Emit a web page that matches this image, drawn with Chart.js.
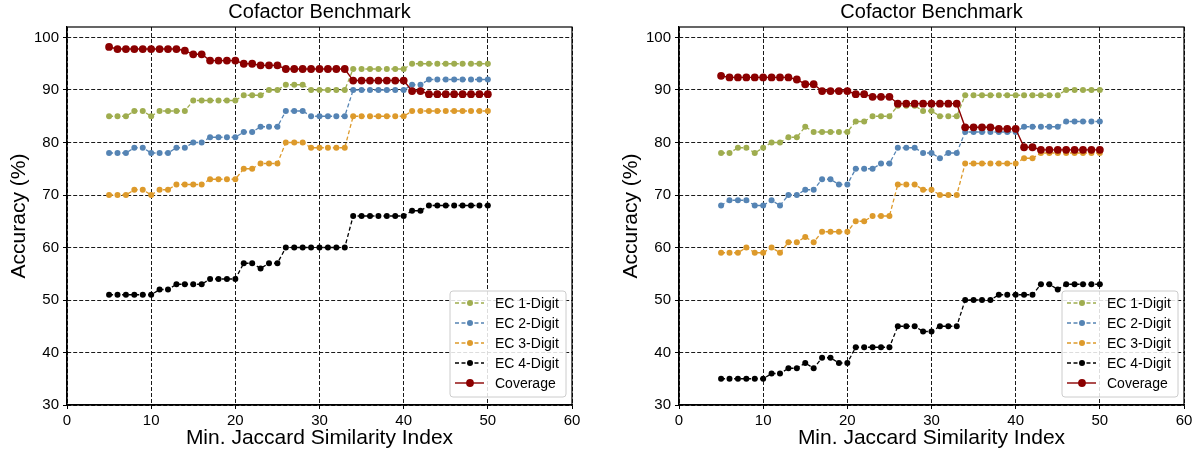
<!DOCTYPE html>
<html>
<head>
<meta charset="utf-8">
<script src="https://cdn.jsdelivr.net/npm/chart.js@4.4.0/dist/chart.umd.min.js"></script>
<style>
    body { margin: 0; background: #fff; }
    .panel { position: absolute; top: 0; width: 600px; height: 459px; }
    #left { left: 0; }
    #right { left: 600px; }
</style>
</head>
<body>
<div class="panel" id="left"><canvas id="chartLeft" width="600" height="459"></canvas></div>
<div class="panel" id="right"><canvas id="chartRight" width="600" height="459"></canvas></div>
<script>
// Datos
const jaccardIndex = [5, 6, 7, 8, 9, 10, 11, 12, 13, 14, 15, 16, 17, 18, 19, 20, 21, 22, 23, 24, 25, 26, 27, 28, 29, 30, 31, 32, 33, 34, 35, 36, 37, 38, 39, 40, 41, 42, 43, 44, 45, 46, 47, 48, 49, 50];
const xTicks = [0, 10, 20, 30, 40, 50, 60];
const yTicks = [30, 40, 50, 60, 70, 80, 90, 100];
const seriesNames = ['EC 1-Digit', 'EC 2-Digit', 'EC 3-Digit', 'EC 4-Digit', 'Coverage'];

// Panel izquierdo
const ec1Left = [85, 85, 85, 86, 86, 85, 86, 86, 86, 86, 88, 88, 88, 88, 88, 88, 89, 89, 89, 90, 90, 91, 91, 91, 90, 90, 90, 90, 90, 94, 94, 94, 94, 94, 94, 94, 95, 95, 95, 95, 95, 95, 95, 95, 95, 95];
const ec2Left = [78, 78, 78, 79, 79, 78, 78, 78, 79, 79, 80, 80, 81, 81, 81, 81, 82, 82, 83, 83, 83, 86, 86, 86, 85, 85, 85, 85, 85, 90, 90, 90, 90, 90, 90, 90, 91, 91, 92, 92, 92, 92, 92, 92, 92, 92];
const ec3Left = [70, 70, 70, 71, 71, 70, 71, 71, 72, 72, 72, 72, 73, 73, 73, 73, 75, 75, 76, 76, 76, 80, 80, 80, 79, 79, 79, 79, 79, 85, 85, 85, 85, 85, 85, 85, 86, 86, 86, 86, 86, 86, 86, 86, 86, 86];
const ec4Left = [51, 51, 51, 51, 51, 51, 52, 52, 53, 53, 53, 53, 54, 54, 54, 54, 57, 57, 56, 57, 57, 60, 60, 60, 60, 60, 60, 60, 60, 66, 66, 66, 66, 66, 66, 66, 67, 67, 68, 68, 68, 68, 68, 68, 68, 68];
const coverageLeft = [98.2, 97.8, 97.8, 97.8, 97.8, 97.8, 97.8, 97.8, 97.8, 97.5, 96.8, 96.8, 95.6, 95.6, 95.6, 95.6, 95.0, 95.0, 94.7, 94.7, 94.7, 94.0, 94.0, 94.0, 94.0, 94.0, 94.0, 94.0, 94.0, 91.8, 91.8, 91.8, 91.8, 91.8, 91.8, 91.8, 89.8, 89.8, 89.2, 89.2, 89.2, 89.2, 89.2, 89.2, 89.2, 89.2];

// Panel derecho
const ec1Right = [78, 78, 79, 79, 78, 79, 80, 80, 81, 81, 83, 82, 82, 82, 82, 82, 84, 84, 85, 85, 85, 87, 87, 87, 86, 86, 85, 85, 85, 89, 89, 89, 89, 89, 89, 89, 89, 89, 89, 89, 89, 90, 90, 90, 90, 90];
const ec2Right = [68, 69, 69, 69, 68, 68, 69, 68, 70, 70, 71, 71, 73, 73, 72, 72, 75, 75, 75, 76, 76, 79, 79, 79, 78, 78, 77, 78, 78, 82, 82, 82, 82, 82, 82, 82, 83, 83, 83, 83, 83, 84, 84, 84, 84, 84];
const ec3Right = [59, 59, 59, 60, 59, 59, 60, 59, 61, 61, 62, 61, 63, 63, 63, 63, 65, 65, 66, 66, 66, 72, 72, 72, 71, 71, 70, 70, 70, 76, 76, 76, 76, 76, 76, 76, 77, 77, 78, 78, 78, 78, 78, 78, 78, 78];
const ec4Right = [35, 35, 35, 35, 35, 35, 36, 36, 37, 37, 38, 37, 39, 39, 38, 38, 41, 41, 41, 41, 41, 45, 45, 45, 44, 44, 45, 45, 45, 50, 50, 50, 50, 51, 51, 51, 51, 51, 53, 53, 52, 53, 53, 53, 53, 53];
const coverageRight = [92.7, 92.4, 92.4, 92.4, 92.4, 92.4, 92.4, 92.4, 92.4, 92.0, 91.1, 91.1, 89.8, 89.8, 89.8, 89.8, 89.2, 89.2, 88.7, 88.7, 88.7, 87.4, 87.4, 87.4, 87.4, 87.4, 87.4, 87.4, 87.4, 82.9, 82.9, 82.9, 82.9, 82.6, 82.6, 82.6, 79.1, 79.1, 78.6, 78.6, 78.6, 78.6, 78.6, 78.6, 78.6, 78.6];

const colores = ['#9fad4f', '#5584b4', '#dd9a2b', '#000000', '#8b0000'];
const FONT = "'Liberation Sans', Arial, sans-serif";

function toPoints(values) {
    return values.map((y, i) => ({ x: jaccardIndex[i], y: y }));
}

function buildDatasets(series) {
    return series.map((values, i) => {
        const isCoverage = i === 4;
        return {
            label: seriesNames[i],
            data: toPoints(values),
            borderColor: colores[i],
            backgroundColor: colores[i],
            borderWidth: isCoverage ? 1.4 : 1.3,
            borderDash: isCoverage ? [] : [4, 2.5],
            pointRadius: isCoverage ? 3.9 : 3,
            pointBorderWidth: 0,
            pointBackgroundColor: colores[i],
            tension: 0,
            fill: false,
            order: 4 - i
        };
    });
}

// Marco completo (estilo matplotlib) y leyenda dentro del área
const framePlugin = {
    id: 'frame',
    afterDatasetsDraw(chart) {
        const { ctx, chartArea: a } = chart;
        ctx.save();
        ctx.strokeStyle = '#000';
        ctx.lineWidth = 1.2;
        ctx.strokeRect(a.left, a.top, a.right - a.left, a.bottom - a.top);

        // leyenda
        const w = 116, h = 106;
        const bx = a.right - 6 - w;
        const by = a.bottom - 8 - h;
        ctx.beginPath();
        ctx.roundRect(bx, by, w, h, 3);
        ctx.fillStyle = 'rgba(255,255,255,0.85)';
        ctx.fill();
        ctx.strokeStyle = '#cccccc';
        ctx.lineWidth = 1;
        ctx.stroke();

        chart.data.datasets.forEach((ds, i) => {
            const cy = by + 12 + i * 20;
            ctx.beginPath();
            ctx.setLineDash(ds.borderDash);
            ctx.strokeStyle = ds.borderColor;
            ctx.lineWidth = ds.borderWidth;
            ctx.moveTo(bx + 5, cy);
            ctx.lineTo(bx + 34, cy);
            ctx.stroke();
            ctx.setLineDash([]);
            ctx.beginPath();
            ctx.arc(bx + 20, cy, ds.pointRadius, 0, Math.PI * 2);
            ctx.fillStyle = ds.borderColor;
            ctx.fill();
            ctx.fillStyle = '#000';
            ctx.font = '14px ' + FONT;
            ctx.textBaseline = 'middle';
            ctx.textAlign = 'left';
            ctx.fillText(ds.label, bx + 45, cy + 1);
        });
        ctx.restore();
    }
};

function makeChart(canvasId, series, leftPad, rightPad) {
    return new Chart(document.getElementById(canvasId), {
        type: 'line',
        data: { datasets: buildDatasets(series) },
        plugins: [framePlugin],
        options: {
            responsive: false,
            animation: false,
            devicePixelRatio: 1,
            layout: { padding: { left: leftPad, right: rightPad, top: 0, bottom: 0 } },
            plugins: {
                legend: { display: false },
                tooltip: { enabled: false },
                title: {
                    display: true,
                    text: 'Cofactor Benchmark',
                    fullSize: false,
                    color: '#000',
                    font: { family: FONT, size: 20, weight: 'normal', lineHeight: 1 },
                    padding: { top: 2, bottom: 5 }
                }
            },
            scales: {
                x: {
                    type: 'linear',
                    min: 0,
                    max: 60,
                    afterBuildTicks: s => { s.ticks = xTicks.map(v => ({ value: v })); },
                    afterFit: s => { s.height = 54; },
                    ticks: { color: '#000', font: { family: FONT, size: 15 }, padding: 3, maxRotation: 0 },
                    grid: { color: '#000', lineWidth: 0.9, tickLength: 4, tickColor: '#000', tickWidth: 1, tickBorderDash: [] },
                    border: { display: true, color: '#000', width: 1.2, dash: [4, 2] },
                    title: {
                        display: true,
                        text: 'Min. Jaccard Similarity Index',
                        color: '#000',
                        font: { family: FONT, size: 21, lineHeight: 1.2 },
                        padding: { top: 0, bottom: 8 }
                    }
                },
                y: {
                    min: 30,
                    max: 102,
                    afterBuildTicks: s => { s.ticks = yTicks.map(v => ({ value: v })); },
                    afterFit: s => { s.width = 67; },
                    ticks: { color: '#000', font: { family: FONT, size: 15 }, padding: 4 },
                    grid: { color: '#000', lineWidth: 0.9, tickLength: 4, tickColor: '#000', tickWidth: 1, tickBorderDash: [] },
                    border: { display: true, color: '#000', width: 1.2, dash: [4, 2] },
                    title: {
                        display: true,
                        text: 'Accuracy (%)',
                        color: '#000',
                        font: { family: FONT, size: 21, lineHeight: 1.2 },
                        padding: { top: 7, bottom: 0 }
                    }
                }
            }
        }
    });
}

makeChart('chartLeft', [ec1Left, ec2Left, ec3Left, ec4Left, coverageLeft], 0, 28);
makeChart('chartRight', [ec1Right, ec2Right, ec3Right, ec4Right, coverageRight], 12, 16);
</script>
</body>
</html>
